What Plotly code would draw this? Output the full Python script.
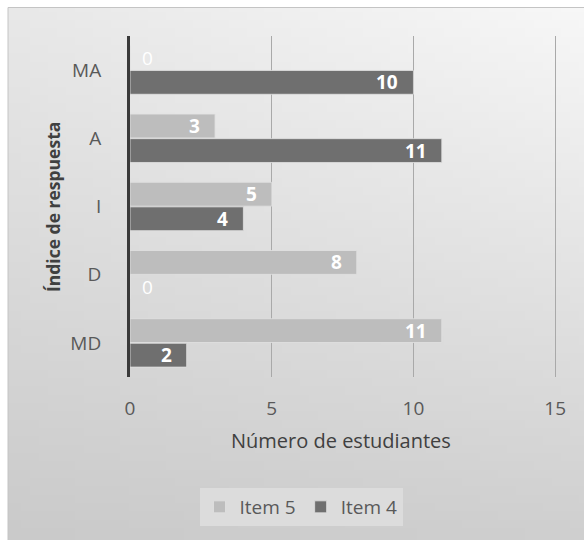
import base64
import struct
import zlib

import plotly.graph_objects as go

# ---- data ----
categories = ["MA", "A", "I", "D", "MD"]
item5 = [0, 3, 5, 8, 11]
item4 = [10, 11, 4, 0, 2]
series_names = ["Item 5", "Item 4"]
x_ticks = [0, 5, 10, 15]

W, H = 584, 540
L, R, T, B = 130, 26, 36, 163
PW, PH = W - L - R, H - T - B


def gradient_png(w=64, h=64):
    rows = []
    for j in range(h):
        ty = j / (h - 1)
        row = bytearray([0])
        for i in range(w):
            tx = i / (w - 1)
            top = 232 + (247 - 232) * tx
            bot = 202 + (207 - 202) * tx
            v = int(round(top + (bot - top) * ty))
            row += bytes([v, v, v])
        rows.append(bytes(row))
    raw = b"".join(rows)

    def chunk(tag, data):
        c = struct.pack(">I", len(data)) + tag + data
        return c + struct.pack(">I", zlib.crc32(tag + data) & 0xFFFFFFFF)

    png = b"\x89PNG\r\n\x1a\n"
    png += chunk(b"IHDR", struct.pack(">IIBBBBB", w, h, 8, 2, 0, 0, 0))
    png += chunk(b"IDAT", zlib.compress(raw, 9))
    png += chunk(b"IEND", b"")
    return "data:image/png;base64," + base64.b64encode(png).decode()


def px_to_paper_x(px):
    return (px - L) / PW


def px_to_paper_y(py):
    return (H - B - py) / PH


FONT = "Open Sans"
colors = {"Item 5": "#bdbdbd", "Item 4": "#6f6f6f"}

fig = go.Figure()
for name, vals in zip(series_names, [item5, item4]):
    fig.add_trace(go.Bar(
        name=name, y=categories, x=vals, orientation="h",
        marker=dict(color=colors[name], line=dict(color="rgba(225,225,225,0.8)", width=1)),
        hoverinfo="x+y+name",
    ))

annotations = []
for name, vals, shift in [("Item 5", item5, 12.3), ("Item 4", item4, -12.3)]:
    for cat, v in zip(categories, vals):
        if v == 0:
            annotations.append(dict(x=v, y=cat, text=str(v), showarrow=False,
                                    xanchor="left", xshift=10, yshift=shift,
                                    font=dict(family=FONT, size=19, color="white")))
        else:
            annotations.append(dict(x=v, y=cat, text="<b>%d</b>" % v, showarrow=False,
                                    xanchor="right", xshift=-13, yshift=shift,
                                    font=dict(family=FONT, size=19, color="white")))

# y-axis title
annotations.append(dict(xref="paper", yref="paper", x=px_to_paper_x(53), y=px_to_paper_y(207),
                        text="<b>Índice de respuesta</b>", textangle=-90, showarrow=False,
                        xanchor="center", yanchor="middle",
                        font=dict(family=FONT, size=17.5, color="#404040")))
# x-axis title
annotations.append(dict(xref="paper", yref="paper", x=px_to_paper_x(341), y=px_to_paper_y(440),
                        text="Número de estudiantes", showarrow=False,
                        xanchor="center", yanchor="middle",
                        font=dict(family=FONT, size=20, color="#404040")))

fig.update_layout(
    width=W, height=H, autosize=False,
    margin=dict(l=L, r=R, t=T, b=B, pad=0),
    paper_bgcolor="white", plot_bgcolor="rgba(0,0,0,0)",
    barmode="group", bargap=0.28, bargroupgap=0.03,
    font=dict(family=FONT, size=19, color="#595959"),
    showlegend=True,
    legend=dict(orientation="h", xref="container", yref="container",
                x=301 / W, y=1 - 507 / H, xanchor="center", yanchor="middle",
                bgcolor="#dcdcdc", font=dict(family=FONT, size=19, color="#595959"),
                itemwidth=30, traceorder="normal"),
    annotations=annotations,
    images=[dict(source=gradient_png(), xref="paper", yref="paper",
                 x=px_to_paper_x(8), y=px_to_paper_y(7),
                 sizex=(W - 8) / PW, sizey=(H - 7) / PH,
                 sizing="stretch", layer="below", xanchor="left", yanchor="top")],
    shapes=[dict(type="rect", xref="paper", yref="paper",
                 x0=px_to_paper_x(8), x1=px_to_paper_x(W + 2),
                 y0=px_to_paper_y(H + 2), y1=px_to_paper_y(7.5),
                 line=dict(color="#c4c4c4", width=1), fillcolor="rgba(0,0,0,0)",
                 layer="below")],
)

fig.update_xaxes(range=[0, 15.1], tickvals=x_ticks, showgrid=True, gridcolor="#a9a9a9",
                 gridwidth=1, zeroline=False, showline=False, ticks="",
                 ticklabelstandoff=18, tickfont=dict(family=FONT, size=19, color="#595959"),
                 fixedrange=True)
fig.update_yaxes(autorange="reversed", categoryorder="array", categoryarray=categories,
                 showgrid=False, showline=True, linecolor="#3a3a3a", linewidth=3,
                 ticks="", ticklabelstandoff=22,
                 tickfont=dict(family=FONT, size=19, color="#595959"), fixedrange=True)

fig.write_html("out.html")
